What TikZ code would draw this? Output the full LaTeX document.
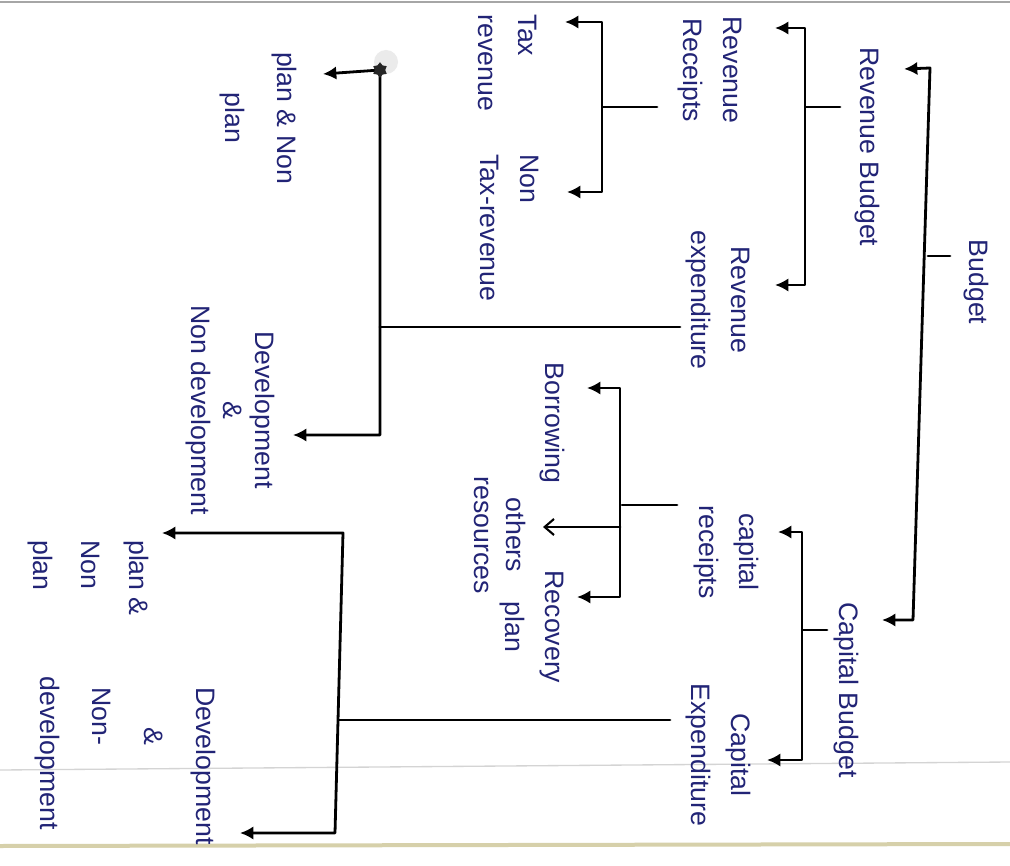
\documentclass[tikz,border=0pt]{standalone}
\usepackage{fontspec}
\setmainfont{Liberation Sans}
\usetikzlibrary{arrows.meta,shapes.geometric}
\definecolor{ink}{RGB}{34,36,118}
\definecolor{paperline}{RGB}{212,212,212}
\definecolor{edgeline}{RGB}{214,208,170}
\begin{document}
\begin{tikzpicture}[x=0.75pt,y=-0.75pt,
  line cap=round,line join=round,
  txt/.style={text=ink,rotate=-90,font=\fontsize{20}{30}\selectfont,inner sep=0pt,align=center},
  conn/.style={draw=black,line width=2.1pt},
  tip/.style={conn,{Latex[length=10pt,width=10pt]}-{Latex[length=10pt,width=10pt]}},
  barb/.style={conn,-{Straight Barb[length=7pt,width=12pt,line width=1.6pt]}}]
\useasboundingbox (0,0) rectangle (1010,866);
\fill[white] (0,0) rectangle (1010,866);
% paper
\draw[black!35,line width=1.2pt] (0,2) -- (1010,2);
\draw[paperline,line width=1pt] (0,770) -- (1010,762);
\draw[edgeline,line width=3pt] (0,846) -- (1010,844);

% texts
\node[txt] (budget) at (976,282) {Budget};
\node[txt] (revbud) at (867,147) {Revenue Budget};
\node[txt] (capbud) at (846,690) {Capital Budget};
\node[txt] (revrec) at (710,70) {Revenue\\Receipts};
\node[txt] (revexp) at (718,300) {Revenue\\expenditure};
\node[txt,align=left] (tax) at (508,63) {Tax\\revenue};
\node[txt,align=left] (nontax) at (510,228) {Non\\Tax-revenue};
\node[txt] (plan1) at (258,118) {plan \& Non\\[9pt]plan};
\node[txt] (dev1) at (230,410) {Development\\[-6pt]\&\\[-6pt]Non development};
\node[txt] (caprec) at (726,552) {capital\\receipts};
\node[txt] (capexp) at (718,755) {Capital\\Expenditure};
\node[txt] (borrow) at (552,423) {Borrowing};
\node[txt] (others) at (500,535) {others\\[-6pt]resources};
\node[txt] (recov) at (532,627) {Recovery\\plan};
\node[txt,align=left] (plan2) at (88,578) {plan \&\\[6pt]Non\\[6pt]plan};
\node[txt,align=left] (dev2) at (125,758) {\hspace*{12pt}Development\\[9pt]\hspace*{42pt}\&\\[9pt]\hspace*{12pt}Non-\\[9pt]\hspace*{4pt}development};

% Budget bracket
\coordinate (bT) at (930,68);
\coordinate (bB) at (913,620);
\coordinate (bK) at (928,256);
\coordinate (bKe) at (950,256);
\coordinate (rbTip) at (904,69);
\coordinate (cbTip) at (882,620);
\draw[tip] (rbTip) -- (bT) -- (bB) -- (cbTip);
\draw[conn] (bK) -- (bKe);

% Revenue Budget bracket
\coordinate (rT) at (805,28);
\coordinate (rB) at (805,285);
\coordinate (rK) at (806,107);
\coordinate (rKe) at (840,107);
\draw[tip] (775,28) -- (rT) -- (rB) -- (775,285);
\draw[conn] (rK) -- (rKe);

% Capital Budget bracket
\coordinate (cT) at (802,532);
\coordinate (cB) at (802,760);
\coordinate (cK) at (803,630);
\coordinate (cKe) at (827,630);
\draw[tip] (778,532) -- (cT) -- (cB) -- (767,760);
\draw[conn] (cK) -- (cKe);

% Revenue receipts bracket
\coordinate (tT) at (602,22);
\coordinate (tB) at (602,192);
\coordinate (tK) at (603,107);
\coordinate (tKe) at (657,107);
\draw[tip] (565,22) -- (tT) -- (tB) -- (567,192);
\draw[conn] (tK) -- (tKe);

% Revenue expenditure branch
\coordinate (eS) at (680,327);
\coordinate (eJ) at (380,327);
\coordinate (eT) at (380,70);
\coordinate (eB) at (380,435);
\fill[black!8] (386,62) circle (9pt);
\draw[tip] (323,74) -- (eT) -- (eB) -- (293,435);
\draw[conn] (eS) -- (eJ);
\node[star,star points=6,fill=black!85,draw=black!85,minimum size=11pt,inner sep=0pt] (junc) at (eT) {};

% Capital receipts bracket
\coordinate (kT) at (620,388);
\coordinate (kB) at (620,597);
\coordinate (kM) at (620,527);
\coordinate (kK) at (622,505);
\coordinate (kKe) at (677,505);
\draw[tip] (587,388) -- (kT) -- (kB) -- (577,597);
\draw[barb] (kM) -- (543,527);
\draw[conn] (kK) -- (kKe);

% Capital expenditure branch
\coordinate (xS) at (670,720);
\coordinate (xJ) at (339,720);
\coordinate (xT) at (343,533);
\coordinate (xB) at (335,833);
\draw[tip] (162,533) -- (xT) -- (xB) -- (240,833);
\draw[conn] (xS) -- (xJ);
\end{tikzpicture}
\end{document}
